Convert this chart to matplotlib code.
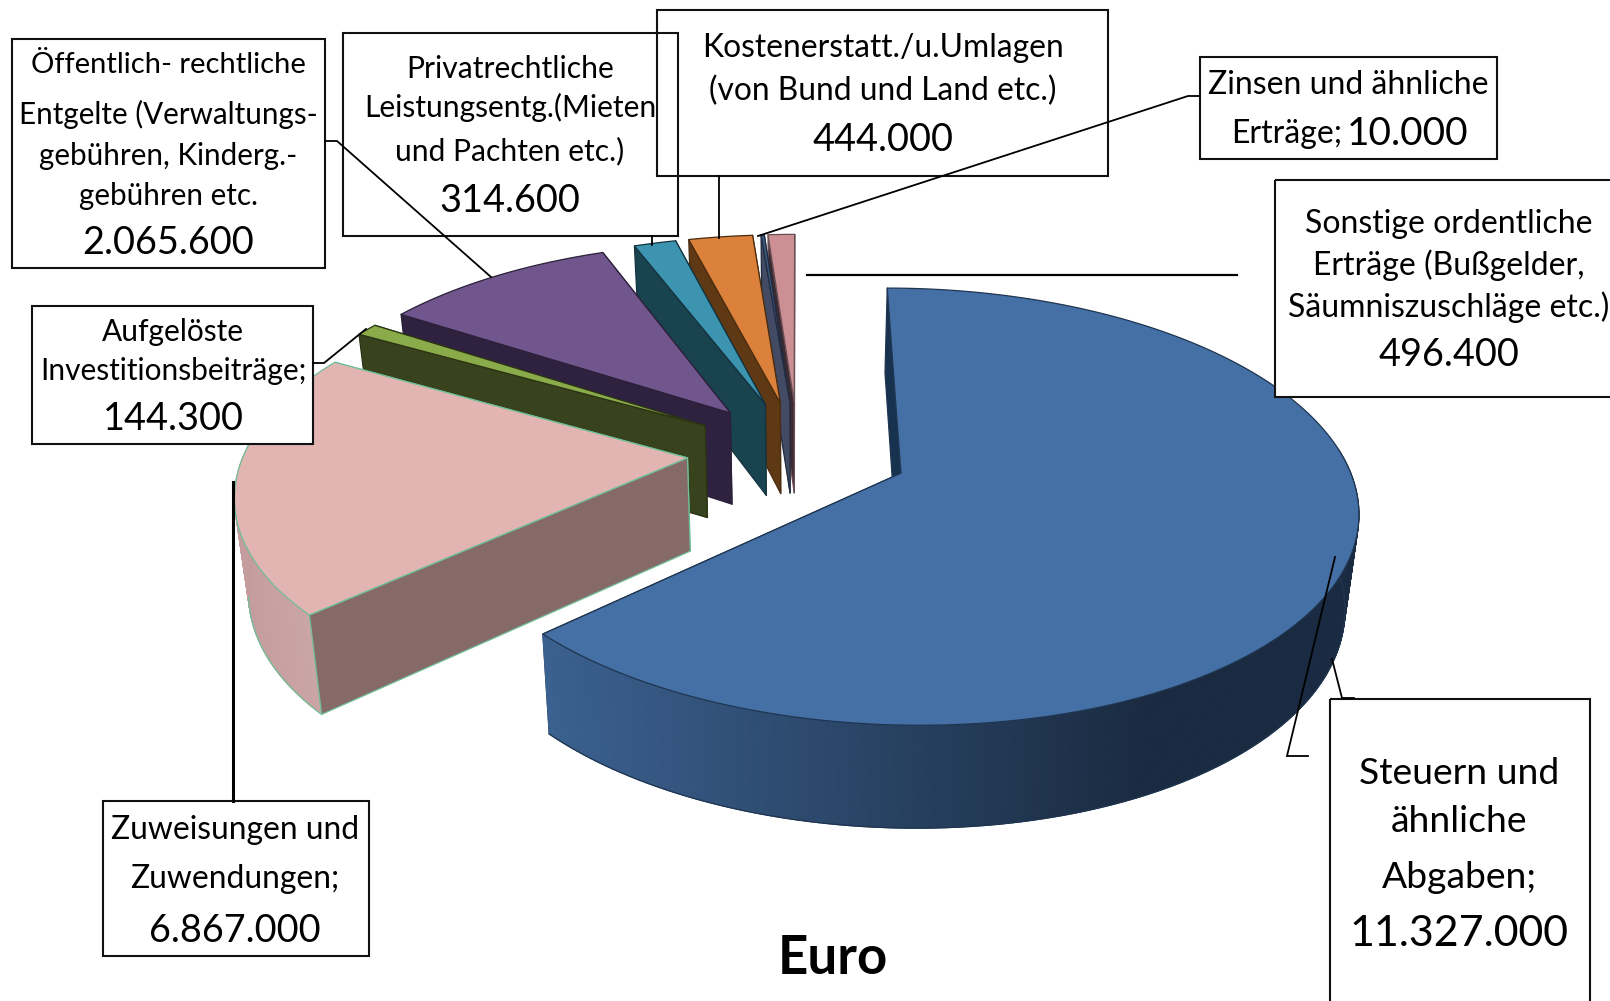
import numpy as np
import matplotlib
matplotlib.use("Agg")
import matplotlib.pyplot as plt
from matplotlib.patches import Polygon, Rectangle
from matplotlib.colors import to_rgb

# ---- data ----
categories = ["Steuern und ähnliche Abgaben", "Zuweisungen und Zuwendungen",
              "Aufgelöste Investitionsbeiträge", "Öffentlich-rechtliche Entgelte",
              "Privatrechtliche Leistungsentgelte", "Kostenerstattungen und Umlagen",
              "Zinsen und ähnliche Erträge", "Sonstige ordentliche Erträge"]
label_values = ["11.327.000", "6.867.000", "144.300", "2.065.600",
                "314.600", "444.000", "10.000", "496.400"]
# the drawn slices do not follow the labels: their spans are read off the picture (degrees)
drawn_degrees = [227.5, 72, 3.5, 36, 6.5, 9.9, 0.5, 4.1]
top_colors = ["#4470a5", "#e2b4b2", "#8aab4a", "#71568e", "#3d94b0", "#db813b", "#3e5a80", "#cc9094"]
wall_colors = ["#17324f", "#866a68", "#38421c", "#2f2240", "#1a4350", "#5f3814", "#434a63", "#3b2a30"]
edge_colors = ["#1f3550", "#6fbf98", "#2b3314", "#2a2038", "#14323d", "#4a2c10", "#222c40", "#6a5055"]

FONT = "Lato"
fig = plt.figure(figsize=(16.10, 10.01), dpi=100, facecolor="white")
ax = fig.add_axes([0, 0, 1, 1])
ax.set_xlim(0, 1610)
ax.set_ylim(1001, 0)
ax.axis("off")

# ---- perspective pie ----
cx, cy, a, b, k, explode = 798, 452, 443, 207, 0.151, 0.25


def project(X, Y, lower=False):
    X, Y = np.asarray(X, float), np.asarray(Y, float)
    p = 1 / (1 - k * Y)
    sx, sy = cx + a * X * p, cy + b * Y * p
    if lower:
        sx = cx + (sx - cx) * 0.975
        sy = sy + 93 + 9 * Y
    return np.column_stack([sx, sy])


def mix(c1, c2, t):
    c1, c2 = np.array(to_rgb(c1)), np.array(to_rgb(c2))
    return tuple(c1 + (c2 - c1) * np.clip(t, 0, 1))


starts = np.cumsum([0] + drawn_degrees[:-1])
for i in [7, 6, 5, 4, 3, 2, 1, 0]:
    t0, t1 = starts[i], starts[i] + drawn_degrees[i]
    mid = np.radians((t0 + t1) / 2)
    X0, Y0 = explode * np.sin(mid), -explode * np.cos(mid)
    th = np.radians(np.linspace(t0, t1, max(3, int(t1 - t0) * 2)))
    X, Y = X0 + np.sin(th), Y0 - np.cos(th)
    topP, lowP = project(X, Y), project(X, Y, True)
    ap, apl = project([X0], [Y0]), project([X0], [Y0], True)
    ec, lw = edge_colors[i], 0.9
    front = np.cos(th) < 0.12
    outline = np.where(np.sin(th) >= 0, np.cos(th) < 0.12, np.cos(th) < -0.2)

    def face(pts, fc):
        ax.add_patch(Polygon(pts, closed=True, fc=fc, ec=ec, lw=lw, joinstyle="round", zorder=1))

    # hidden cut face
    face(np.vstack([ap, topP[-1:], lowP[-1:], apl]), wall_colors[i])
    # rim (only the part turned towards the viewer), shaded along x
    for j in range(len(th) - 1):
        if not front[j]:
            continue
        if i == 0:
            c = mix("#3b6190", "#1a2b41", (topP[j, 0] - 545) / 600)
        else:
            c = mix("#c49c9d", "#cba6a6", (topP[j, 0] - 235) / 80)
        q = np.vstack([topP[j:j + 2], lowP[j:j + 2][::-1]])
        ax.add_patch(Polygon(q, closed=True, fc=c, ec=c, lw=0.8, zorder=1))
    if outline.any():
        ax.plot(lowP[outline, 0], lowP[outline, 1], color=ec, lw=lw, zorder=1)
    # visible cut face
    face(np.vstack([ap, topP[:1], lowP[:1], apl]), wall_colors[i])
    # top
    face(np.vstack([ap, topP]), top_colors[i])

# ---- boxes ----
boxes = [(12, 39, 325, 268), (343, 33, 678, 236), (657, 10, 1108, 176), (1200, 57, 1497, 159),
         (1275, 180, 1625, 397), (32, 306, 313, 444), (103, 801, 369, 956), (1330, 699, 1590, 1020)]
for x0, y0, x1, y1 in boxes:
    ax.add_patch(Rectangle((x0, y0), x1 - x0, y1 - y0, fc="white", ec="none", zorder=5))
for x0, y0, x1, y1 in boxes:
    ax.add_patch(Rectangle((x0, y0), x1 - x0, y1 - y0, fc="none", ec="#111111", lw=1.5, zorder=6))

# ---- leader lines ----
leaders = [([325, 337, 491], [141, 141, 277], 1.3), ([313, 324, 366], [363, 363, 329], 1.3),
           ([652, 652], [236, 245], 1.3), ([719, 719], [176, 238], 1.3),
           ([1200, 1188, 758], [96, 96, 236], 1.3), ([807, 1237], [275, 275], 1.6),
           ([233, 233], [482, 801], 2.2), ([1335, 1287, 1308], [557, 756, 756], 1.3),
           ([1332, 1342, 1354], [659, 698, 698], 1.3)]
for xs, ys, w in leaders:
    ax.plot(xs, ys, color="black", lw=w, zorder=7, solid_joinstyle="miter")

# ---- labels ----
VAL = 27.3
labels = [
    (168, [("Öffentlich- rechtliche", 63, 21), ("Entgelte (Verwaltungs-", 112, 21.3),
           ("gebühren, Kinderg.-", 154, 21.3), ("gebühren etc.", 194, 21.3), (label_values[3], 241, VAL)]),
    (510, [("Privatrechtliche", 67, 21.6), ("Leistungsentg.(Mieten", 105, 21.6),
           ("und Pachten etc.)", 149, 21.6), (label_values[4], 199, VAL)]),
    (883, [("Kostenerstatt./u.Umlagen", 46, 22.9), ("(von Bund und Land etc.)", 89, 22.9),
           (label_values[5], 138, VAL)]),
    (1348, [("Zinsen und ähnliche", 83, 23)]),
    (1449, [("Sonstige ordentliche", 222, 23), ("Erträge (Bußgelder,", 263, 23),
            ("Säumniszuschläge etc.)", 305, 23), (label_values[7], 353, VAL)]),
    (173, [("Aufgelöste", 330, 21.5), ("Investitionsbeiträge;", 369, 21.5), (label_values[2], 417, VAL)]),
    (235, [("Zuweisungen und", 828, 22.9), ("Zuwendungen;", 877, 22.9), (label_values[1], 929, VAL)]),
    (1459, [("Steuern und", 771, 26.8), ("ähnliche", 820, 26.8), ("Abgaben;", 875, 26.8), (label_values[0], 932, 30.9)]),
]
for x, lines in labels:
    for s, y, fs in lines:
        ax.text(x, y + 2, s, ha="center", va="center", fontsize=fs, family=FONT, color="black", zorder=8)
ax.text(1231, 134, "Erträge;", ha="left", va="center", fontsize=23, family=FONT, color="black", zorder=8)
ax.text(1468, 134, label_values[6], ha="right", va="center", fontsize=28, family=FONT, color="black", zorder=8)
ax.text(833, 958, "Euro", ha="center", va="center", fontsize=38, family=FONT, weight="bold", color="black", zorder=8)

fig.savefig("out.png", dpi=100)
